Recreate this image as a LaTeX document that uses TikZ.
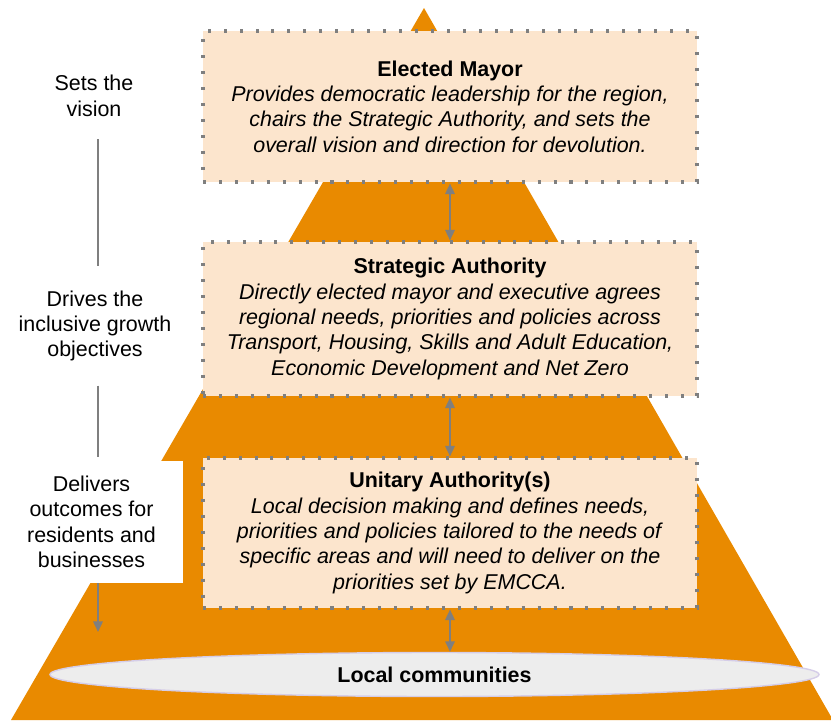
\documentclass[tikz,border=0pt]{standalone}
\usepackage{fontspec}
\setmainfont{Liberation Sans}
\usetikzlibrary{shapes.geometric,arrows.meta}
\definecolor{pyramide}{HTML}{E98A00}
\definecolor{kasten}{HTML}{FCE5CD}
\definecolor{randgrau}{HTML}{7F7F7F}
\definecolor{ellipsenrand}{HTML}{D5CDE8}
\tikzset{
  ebene/.style={draw=randgrau, fill=kasten, line width=2.6pt,
    dash pattern=on 2.6pt off 11pt, minimum width=14.82cm,
    align=center, font=\fontsize{18.3}{21.7}\selectfont},
  seite/.style={align=center, font=\fontsize{18.3}{21.7}\selectfont},
  pfeil/.style={draw=randgrau, line width=1.7pt},
  >={Triangle[length=9pt,width=8pt]}
}
\begin{document}
\begin{tikzpicture}[x=0.03cm,y=-0.03cm]
  % Rahmen
  \useasboundingbox (0,0) rectangle (831,720);
  \clip (0,0) rectangle (831,720);

  % Pyramide
  \fill[pyramide] (424,8) -- (833,720) -- (11,720) -- cycle;

  % Ebenen
  \node[ebene, minimum height=4.53cm] (mayor) at (450,106.5)
    {\textbf{Elected Mayor}\\
     \textit{Provides democratic leadership for the region,}\\
     \textit{chairs the Strategic Authority, and sets the}\\
     \textit{overall vision and direction for devolution.}};
  \node[ebene, minimum height=4.62cm] (strategic) at (450,319)
    {\textbf{Strategic Authority}\\
     \textit{Directly elected mayor and executive agrees}\\
     \textit{regional needs, priorities and policies across}\\
     \textit{Transport, Housing, Skills and Adult Education,}\\
     \textit{Economic Development and Net Zero}};
  \node[ebene, minimum height=4.5cm] (unitary) at (450,533)
    {\textbf{Unitary Authority(s)}\\
     \textit{Local decision making and defines needs,}\\
     \textit{priorities and policies tailored to the needs of}\\
     \textit{specific areas and will need to deliver on the}\\
     \textit{priorities set by EMCCA.}};

  % Basis
  \node[ellipse, draw=ellipsenrand, line width=1.2pt, fill=black!7,
    minimum width=23.07cm, minimum height=1.32cm, inner sep=0pt,
    font=\fontsize{18.3}{21.7}\selectfont\bfseries] (communities) at (434.5,674.5)
    {Local communities};

  % Verbindungen
  \coordinate (ax) at (450,0);
  \draw[pfeil, <->] (mayor.south -| ax) -- (strategic.north -| ax);
  \draw[pfeil, <->] (strategic.south -| ax) -- (unitary.north -| ax);
  \draw[pfeil, <->] (unitary.south -| ax) -- (communities.north -| ax);

  % Seitenbeschriftung
  \node[seite] (vision) at (94,96) {Sets the\\vision};
  \node[seite] (drives) at (95,326) {Drives the\\inclusive growth\\objectives};
  \node[seite, fill=white, minimum width=5.49cm, minimum height=3.66cm]
    (delivers) at (91.5,522) {Delivers\\outcomes for\\residents and\\businesses};
  \coordinate (lx) at (98,0);
  \coordinate (ende) at (98,632);
  \draw[pfeil, shorten <=0.55cm, shorten >=0.6cm] (vision.south -| lx) -- (drives.north -| lx);
  \draw[pfeil, shorten <=0.6cm, shorten >=0.1cm] (drives.south -| lx) -- (delivers.north -| lx);
  \draw[pfeil, ->] (delivers.south -| lx) -- (ende);
\end{tikzpicture}
\end{document}
